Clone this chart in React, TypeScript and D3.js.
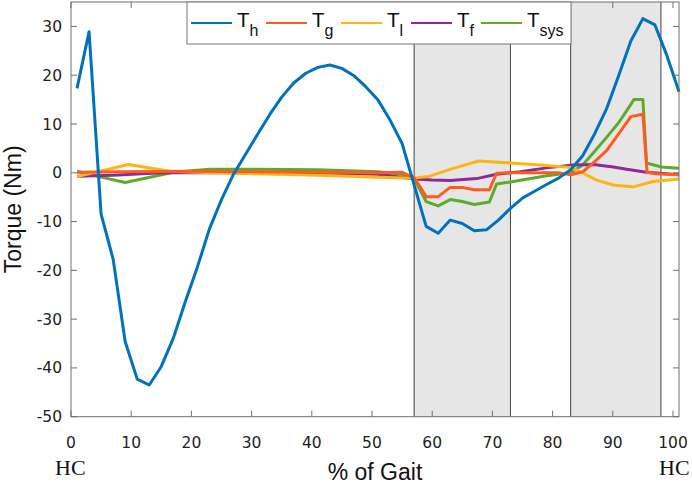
import React from 'react';
import * as d3 from 'd3';

// gait percentage samples (every 2%)
const gaitPct = d3.range(1, 102, 2);

// hip torque, one value per gaitPct sample
const thValues = [
  17.3, 28.9, -8.5, -17.7, -34.6, -42.3, -43.5, -39.7, -33.9, -26.4,
  -19.3, -11.5, -5.5, -0.3, 3.8, 7.9, 11.9, 15.5, 18.4, 20.4,
  21.6, 22.1, 21.4, 19.9, 17.6, 14.9, 10.8, 6.0, -2.5, -11.0,
  -12.4, -9.7, -10.4, -11.9, -11.7, -9.7, -7.3, -5.2, -3.8, -2.4,
  -1.1, 0.6, 3.5, 8.0, 13.2, 20.0, 27.0, 31.6, 30.3, 24.0, 16.6,
];

// the other torques as [gait %, Nm] points
const tgPoints: [number, number][] = [
  [1, 0.1], [9, 0.2], [21, 0.3], [31, 0.2], [41, 0.1], [51, 0], [55, 0.1], [57, -1],
  [59, -4.9], [61, -4.9], [63, -3.0], [65, -3.0], [67, -3.5], [69.5, -3.5], [70.7, -0.1],
  [73, 0], [77, 0], [81, 0], [83, -0.4], [85, 0.2], [87, 2.3], [89, 4.6], [91, 8],
  [93, 11.5], [95, 12], [95.7, 0.1], [97, -0.2], [101, -0.4],
];
const tlPoints: [number, number][] = [
  [1, -0.8], [9.5, 1.7], [16.4, 0.3], [21, 0.1], [31, -0.2], [41, -0.5], [51, -0.9],
  [57, -1.1], [59.6, -0.7], [63.5, 0.9], [67.7, 2.4], [73, 2.0], [78, 1.6], [83, 1.1],
  [84.6, 0.2], [87.3, -1.5], [90.1, -2.5], [93.4, -2.9], [96.7, -1.8], [101, -1.3],
];
const tfPoints: [number, number][] = [
  [1, -0.7], [7, -0.5], [15, 0], [25, 0], [35, -0.1], [45, -0.2], [51, -0.3], [57, -1.3],
  [60, -1.5], [63, -1.6], [67.4, -1.2], [70.7, -0.3], [74.6, 0.2], [79, 1.0], [83.4, 1.6],
  [86.8, 1.7], [90.1, 1.2], [92.3, 0.7], [95.6, 0.1], [101, -0.4],
];
const tsysPoints: [number, number][] = [
  [1, 0.3], [5, -0.9], [9, -2.0], [17, 0.1], [23, 0.7], [31, 0.7], [41, 0.6], [51, 0.2],
  [55, -0.3], [57, -1.2], [59, -5.9], [61, -6.8], [63, -5.5], [65, -5.9], [67, -6.5],
  [69.5, -6.0], [70.7, -2.3], [73, -1.9], [79, -0.6], [83, 0], [85, 1.6], [87, 4.4],
  [89, 7.3], [91, 10.3], [93, 14.0], [93.5, 15], [95, 15], [95.6, 2], [98, 1.2], [101, 0.9],
];

const shadedPhases: [number, number][] = [[57, 73], [83, 98]];

const xTicks = d3.range(0, 101, 10);
const yTicks = d3.range(-50, 31, 10);

const seriesNames = ['h', 'g', 'l', 'f', 'sys'];
const seriesColors = ['#0072BD', '#FF5A1F', '#FDB515', '#8B2C96', '#5CAB2A'];

const W = 692;
const H = 486;
const left = 71;
const right = 679;
const top = 2;
const bottom = 416.7;

const App = () => {
  const x = d3.scaleLinear().domain([0, 101]).range([left, right]);
  const y = d3.scaleLinear().domain([-50, 35]).range([bottom, top]);

  const line = d3.line<[number, number]>().x(d => x(d[0])).y(d => y(d[1]));

  const thPoints: [number, number][] = gaitPct.map((g, i) => [g, thValues[i]]);
  const allSeries = [thPoints, tgPoints, tlPoints, tfPoints, tsysPoints];
  const drawOrder = [4, 3, 2, 1, 0];

  const legendStarts = [191, 266, 341, 411, 481];
  const axisColor = '#6e6e6e';
  const tickFont = '"DejaVu Sans", Verdana, sans-serif';

  return (
    <svg width={W} height={H} style={{ position: 'absolute', left: 0, top: 0 }}>
      <rect x={0} y={0} width={W} height={H} fill='#fff' />

      {shadedPhases.map((p, i) => (
        <g key={i}>
          <rect x={x(p[0])} y={top} width={x(p[1]) - x(p[0])} height={bottom - top} fill='#e6e6e6' />
          <line x1={x(p[0])} x2={x(p[0])} y1={top} y2={bottom} stroke='#444' strokeWidth={1} />
          <line x1={x(p[1])} x2={x(p[1])} y1={top} y2={bottom} stroke='#444' strokeWidth={1} />
        </g>
      ))}

      {drawOrder.map(i => (
        <path key={i} d={line(allSeries[i]) || ''} fill='none' stroke={seriesColors[i]}
          strokeWidth={3} strokeLinejoin='round' />
      ))}

      {/* box + inward ticks */}
      <rect x={left} y={top} width={right - left} height={bottom - top} fill='none' stroke={axisColor} strokeWidth={1} />
      {xTicks.map(t => (
        <g key={'x' + t}>
          <line x1={x(t)} x2={x(t)} y1={bottom} y2={bottom - 6} stroke={axisColor} />
          <line x1={x(t)} x2={x(t)} y1={top} y2={top + 6} stroke={axisColor} />
          <text x={x(t)} y={448} textAnchor='middle' fontFamily={tickFont} fontSize={15.5} fill='#222'>{t}</text>
        </g>
      ))}
      {yTicks.map(t => (
        <g key={'y' + t}>
          <line x1={left} x2={left + 6} y1={y(t)} y2={y(t)} stroke={axisColor} />
          <line x1={right} x2={right - 6} y1={y(t)} y2={y(t)} stroke={axisColor} />
          <text x={62} y={y(t)} dy='0.36em' textAnchor='end' fontFamily={tickFont} fontSize={15.5} fill='#222'>{t}</text>
        </g>
      ))}

      <text transform={`translate(21,${(top + bottom) / 2}) rotate(-90)`} textAnchor='middle'
        fontFamily='"Liberation Sans", Arial, sans-serif' fontSize={23} fill='#111'>Torque (Nm)</text>
      <text x={(left + right) / 2} y={480} textAnchor='middle'
        fontFamily='"Liberation Sans", Arial, sans-serif' fontSize={23} fill='#111'>% of Gait</text>
      <text x={55} y={475} fontFamily='"Liberation Serif", "Times New Roman", serif' fontSize={22} fill='#111'>HC</text>
      <text x={659} y={475} fontFamily='"Liberation Serif", "Times New Roman", serif' fontSize={22} fill='#111'>HC</text>

      {/* legend */}
      <rect x={187} y={top} width={384} height={42} fill='#fff' stroke='#777' strokeWidth={1} />
      {seriesNames.map((n, i) => (
        <g key={n}>
          <line x1={legendStarts[i]} x2={legendStarts[i] + 41} y1={23} y2={23} stroke={seriesColors[i]} strokeWidth={2} />
          <text x={legendStarts[i] + 46} y={27.3} fontFamily='"Liberation Sans", Arial, sans-serif' fontSize={20.5} fill='#111'>
            T<tspan dy={9} fontSize={16}>{n}</tspan>
          </text>
        </g>
      ))}
    </svg>
  );
};

export default App;
